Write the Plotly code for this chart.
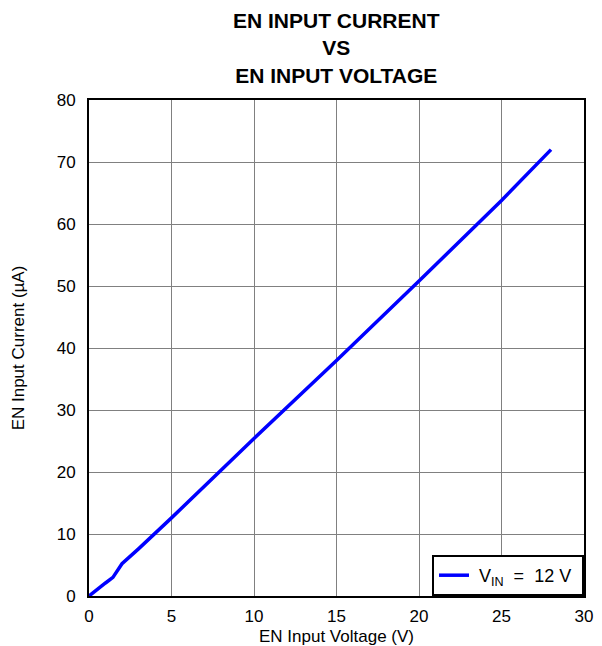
import plotly.graph_objects as go

voltage = [0, 0.5, 1.0, 1.45, 2.0, 3.0, 5.0, 10.0, 15.0, 20.0, 25.0, 28.0]
current = [0, 1.1, 2.1, 3.0, 5.2, 7.6, 12.6, 25.4, 38.0, 50.8, 63.8, 72.0]
series_name = " V<sub>IN</sub>  =  12 V "
title_lines = ["EN INPUT CURRENT", "VS", "EN INPUT VOLTAGE"]

x_ticks = [0, 5, 10, 15, 20, 25, 30]
y_ticks = [0, 10, 20, 30, 40, 50, 60, 70, 80]

font_family = "Liberation Sans, Arial, sans-serif"

fig = go.Figure()
fig.add_trace(go.Scatter(
    x=voltage, y=current, mode="lines", name=series_name,
    line=dict(color="#0000ff", width=3.5),
))

# page body has an 8px default margin, so the figure is sized to fit the window
fig.update_layout(
    width=594, height=638,
    margin=dict(l=81, r=18, t=92, b=50, autoexpand=False),
    paper_bgcolor="white", plot_bgcolor="white",
    font=dict(family=font_family, color="black", size=17),
    showlegend=True,
    legend=dict(
        x=1, y=0, xanchor="right", yanchor="bottom",
        bgcolor="white", bordercolor="black", borderwidth=2,
        font=dict(size=18),
    ),
)

fig.add_annotation(
    text="<b>" + "<br>".join(title_lines) + "</b>",
    x=0.5, xref="paper", y=1, yref="paper",
    xanchor="center", yanchor="bottom", yshift=12, borderpad=0,
    showarrow=False, font=dict(size=21, family=font_family, color="black"),
)

fig.update_xaxes(
    range=[0, 30], tickvals=x_ticks, ticktext=[str(v) for v in x_ticks],
    showgrid=True, gridcolor="#808080", gridwidth=1,
    showline=True, linecolor="black", linewidth=2, mirror=True,
    ticks="", tickfont=dict(size=17), zeroline=False, automargin=False,
    ticklabelstandoff=4,
    title=dict(text="EN Input Voltage (V)", font=dict(size=17), standoff=5),
)
fig.update_yaxes(
    range=[0, 80], tickvals=y_ticks, ticktext=[str(v) for v in y_ticks],
    showgrid=True, gridcolor="#808080", gridwidth=1,
    showline=True, linecolor="black", linewidth=2, mirror=True,
    ticks="", tickfont=dict(size=17), zeroline=False, automargin=False,
    ticklabelstandoff=8,
    title=dict(text="EN Input Current (µA)", font=dict(size=17), standoff=28),
)

fig.write_html("out.html")
